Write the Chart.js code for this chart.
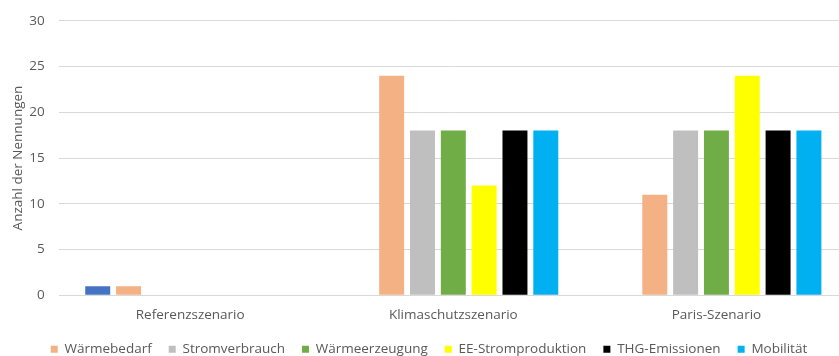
<!DOCTYPE html>
<html>
<head>
<meta charset="utf-8">
<script src="https://cdn.jsdelivr.net/npm/chart.js@4"></script>
<style>
  html, body { margin: 0; padding: 0; background: #fff; overflow: hidden; }
  #wrap { width: 848px; height: 356px; }
</style>
</head>
<body>
<div id="wrap"><canvas id="chart"></canvas></div>
<script>
const categories = ['Referenzszenario', 'Klimaschutzszenario', 'Paris-Szenario'];

// first series has no legend entry in the original
const seriesNames = ['', 'Wärmebedarf', 'Stromverbrauch', 'Wärmeerzeugung', 'EE-Stromproduktion', 'THG-Emissionen', 'Mobilität'];
const seriesColors = ['#4472C4', '#F4B183', '#BFBFBF', '#70AD47', '#FFFF00', '#000000', '#00B0F0'];

const unnamed = [1, 0, 0];
const waermebedarf = [1, 24, 11];
const stromverbrauch = [0, 18, 18];
const waermeerzeugung = [0, 18, 18];
const eeStrom = [0, 12, 24];
const thg = [0, 18, 18];
const mobilitaet = [0, 18, 18];

const yTicks = [0, 5, 10, 15, 20, 25, 30];

const values = [unnamed, waermebedarf, stromverbrauch, waermeerzeugung, eeStrom, thg, mobilitaet];

const textColor = '#595959';
const gridColor = '#D9D9D9';
const font = { family: 'Open Sans', size: 13.5 };

// legend sits tighter under the axis labels than chart.js puts it
const legendShift = {
  id: 'legendShift',
  afterInit(chart) {
    const legend = chart.legend;
    const fit = legend.fit.bind(legend);
    const draw = legend.draw.bind(legend);
    legend.fit = function () {
      fit();
      this.height -= 20;
    };
    legend.draw = function () {
      const top = this.top;
      this.top = top - 10;
      draw();
      this.top = top;
    };
  }
};

const ctx = document.getElementById('chart').getContext('2d');
new Chart(ctx, {
  type: 'bar',
  data: {
    labels: categories,
    datasets: values.map((v, i) => ({
      label: seriesNames[i],
      data: v,
      backgroundColor: seriesColors[i],
      borderWidth: 0,
      categoryPercentage: 0.82,
      barPercentage: 0.81
    }))
  },
  options: {
    responsive: true,
    maintainAspectRatio: false,
    animation: false,
    layout: { padding: { top: 7, left: 10, right: 0, bottom: 0 } },
    plugins: {
      legend: {
        position: 'bottom',
        labels: {
          filter: item => item.text !== '',
          boxWidth: 7,
          boxHeight: 7,
          padding: 17,
          color: textColor,
          font: font
        }
      },
      tooltip: { enabled: false }
    },
    scales: {
      x: {
        grid: { display: false, drawTicks: false },
        border: { display: false },
        ticks: {
          color: textColor,
          padding: 12,
          font: font
        }
      },
      y: {
        min: 0,
        max: 30,
        afterBuildTicks: axis => { axis.ticks = yTicks.map(v => ({ value: v })); },
        grid: { color: gridColor, lineWidth: 1, drawTicks: false },
        border: { display: false },
        ticks: {
          color: textColor,
          padding: 14,
          font: { family: 'Open Sans', size: 13.5, lineHeight: 1 }
        },
        title: {
          display: true,
          text: 'Anzahl der Nennungen',
          color: textColor,
          padding: { top: 0, bottom: -11 },
          font: font
        }
      }
    }
  },
  plugins: [legendShift]
});
</script>
</body>
</html>
